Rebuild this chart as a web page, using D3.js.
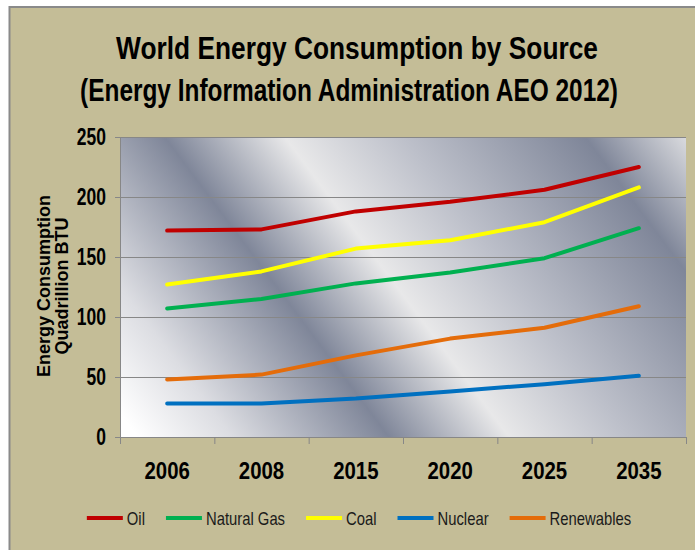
<!DOCTYPE html>
<html>
<head>
<meta charset="utf-8">
<script src="https://cdn.jsdelivr.net/npm/d3@7"></script>
<style>
  html, body { margin: 0; padding: 0; background: #fff; }
  svg { display: block; }
</style>
</head>
<body>
<div id="chart"></div>
<script>
// world energy consumption by source, line chart on a metallic plot area
const categories = ["2006", "2008", "2015", "2020", "2025", "2035"];
const oil = [172, 173, 188, 196, 206, 225];
const naturalGas = [107, 115, 128, 137, 149, 174];
const coal = [127, 138, 157, 164, 179, 208];
const nuclear = [28, 28, 32, 38, 44, 51];
const renewables = [48, 52, 68, 82, 91, 109];
const seriesNames = ["Oil", "Natural Gas", "Coal", "Nuclear", "Renewables"];
const seriesColors = ["#C00000", "#00B050", "#FFFF00", "#0070C0", "#E46C0A"];
const yTicks = [0, 50, 100, 150, 200, 250];

const W = 695, H = 550;
const margin = { top: 137, right: 9, bottom: 113, left: 120 },
  width = W - margin.left - margin.right,
  height = H - margin.top - margin.bottom;

const font = '"Liberation Sans", Arial, sans-serif';

// squeeze text horizontally (no narrow font installed)
const condense = (sel, k) => sel.each(function () {
  const len = this.getComputedTextLength();
  d3.select(this).attr("textLength", len * k).attr("lengthAdjust", "spacingAndGlyphs");
});

const svg = d3.select("#chart").append("svg")
  .attr("width", W)
  .attr("height", H);

// frame
svg.append("rect").attr("x", 9).attr("y", 7).attr("width", W - 9).attr("height", H - 7)
  .attr("fill", "#C4BD97");
svg.append("line").attr("x1", 9).attr("x2", W).attr("y1", 7).attr("y2", 7)
  .attr("stroke", "#8a8a8a").attr("stroke-width", 2);
svg.append("line").attr("x1", 9.5).attr("x2", 9.5).attr("y1", 6).attr("y2", H)
  .attr("stroke", "#8a8a8a").attr("stroke-width", 2);

// titles, scaled to the narrow look of the original
const titleLine = (txt, cx, baseline, targetWidth) => {
  const t = svg.append("text").attr("text-anchor", "middle")
    .style("font-family", font).style("font-weight", "bold").style("font-size", "31px")
    .text(txt);
  const k = targetWidth / t.node().getComputedTextLength();
  t.attr("transform", `translate(${cx},${baseline}) scale(${k},1)`);
};
titleLine("World Energy Consumption by Source", 357, 59, 482);
titleLine("(Energy Information Administration AEO 2012)", 349, 101, 538);

// metallic background gradient, bands running down-right
const defs = svg.append("defs");
const grad = defs.append("linearGradient").attr("id", "metal")
  .attr("gradientUnits", "userSpaceOnUse")
  .attr("x1", margin.left).attr("y1", margin.top + height)
  .attr("x2", margin.left + 507).attr("y2", margin.top + height - 379);
[
  [0, "#ffffff"], [0.12, "#dcdde2"], [0.318, "#7f8699"], [0.47, "#e8e8e9"],
  [0.62, "#bdc0ca"], [0.85, "#7f8699"], [1, "#e9e9ea"]
].forEach(s => grad.append("stop").attr("offset", s[0]).attr("stop-color", s[1]));

const g = svg.append("g").attr("transform", `translate(${margin.left},${margin.top})`);

g.append("rect").attr("width", width).attr("height", height).attr("fill", "url(#metal)");

const x = d3.scaleBand().domain(categories).range([0, width]).padding(0);
const y = d3.scaleLinear().domain([0, 250]).range([height, 0]);

// gridlines
g.selectAll(".grid").data(yTicks.filter(d => d > 0)).join("line")
  .attr("x1", 0).attr("x2", width)
  .attr("y1", d => y(d) + 0.5).attr("y2", d => y(d) + 0.5)
  .attr("stroke", "#878787").attr("stroke-width", 1);

// Y axis
const yAxis = g.append("g")
  .call(d3.axisLeft(y).tickValues(yTicks).tickSize(5).tickPadding(9));
yAxis.select(".domain").attr("stroke", "#878787");
yAxis.selectAll(".tick line").attr("stroke", "#878787");
yAxis.selectAll("text")
  .style("font-family", font).style("font-weight", "bold").style("font-size", "23px")
  .attr("fill", "#000")
  .call(condense, 0.76);

// X axis: labels at band centers, ticks at band edges
g.append("line").attr("x1", 0).attr("x2", width)
  .attr("y1", height + 0.5).attr("y2", height + 0.5).attr("stroke", "#878787");
const edges = categories.map(c => x(c)).concat([x.range()[1]]);
g.selectAll(".xtick").data(edges).join("line")
  .attr("x1", d => d + 0.5).attr("x2", d => d + 0.5)
  .attr("y1", height).attr("y2", height + 7)
  .attr("stroke", "#878787");
g.selectAll(".xlabel").data(categories).join("text")
  .attr("x", d => x(d) + x.bandwidth() / 2)
  .attr("y", height + 42)
  .attr("text-anchor", "middle")
  .style("font-family", font).style("font-weight", "bold").style("font-size", "24px")
  .text(d => d)
  .call(condense, 0.85);

// Y axis title
const yTitle = svg.append("text")
  .attr("transform", `translate(50, 286) rotate(-90)`)
  .attr("text-anchor", "middle")
  .style("font-family", font).style("font-weight", "bold").style("font-size", "18px");
yTitle.append("tspan").attr("x", 0).attr("y", 0).text("Energy Consumption");
yTitle.append("tspan").attr("x", 0).attr("y", 18).text("Quadrillion BTU");

// lines
const seriesValues = [oil, naturalGas, coal, nuclear, renewables];
const line = d3.line()
  .x((d, i) => x(categories[i]) + x.bandwidth() / 2)
  .y(d => y(d));
g.selectAll(".series").data(seriesValues).join("path")
  .attr("d", d => line(d))
  .attr("fill", "none")
  .attr("stroke", (d, i) => seriesColors[i])
  .attr("stroke-width", 4)
  .attr("stroke-linejoin", "round")
  .attr("stroke-linecap", "round");

// legend
const legend = svg.append("g");
let cursor = 0;
seriesNames.forEach((name, i) => {
  const item = legend.append("g").attr("transform", `translate(${cursor},0)`);
  item.append("line").attr("x1", 0).attr("x2", 36).attr("y1", 0).attr("y2", 0)
    .attr("stroke", seriesColors[i]).attr("stroke-width", 4);
  const t = item.append("text").attr("x", 40).attr("y", 7)
    .style("font-family", font).style("font-size", "19px").attr("fill", "#1a1a1a")
    .text(name);
  const len = t.node().getComputedTextLength() * 0.78;
  t.attr("textLength", len).attr("lengthAdjust", "spacingAndGlyphs");
  cursor += 40 + len + 21;
});
const total = cursor - 21;
legend.attr("transform", `translate(${359 - total / 2},518)`);
</script>
</body>
</html>
